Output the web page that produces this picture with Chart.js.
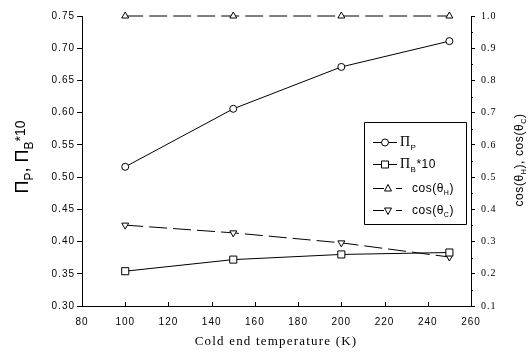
<!DOCTYPE html>
<html>
<head>
<meta charset="utf-8">
<script src="https://cdn.jsdelivr.net/npm/chart.js@4/dist/chart.umd.min.js"></script>
<style>
html,body{margin:0;padding:0;background:#fff;}
canvas{display:block;}
</style>
</head>
<body>
<canvas id="c" width="529" height="353"></canvas>
<script>
// ---- data ----
const temps = [100, 150, 200, 250];
const piP = [0.516, 0.606, 0.671, 0.711];
const piB10 = [0.354, 0.372, 0.380, 0.383];
const cosH = [1.0, 1.0, 1.0, 1.0];
const cosC = [0.351, 0.327, 0.296, 0.252];
const xTicks = [80, 100, 120, 140, 160, 180, 200, 220, 240, 260];
const leftTicks = [0.30, 0.35, 0.40, 0.45, 0.50, 0.55, 0.60, 0.65, 0.70, 0.75];
const rightTicks = [0.1, 0.2, 0.3, 0.4, 0.5, 0.6, 0.7, 0.8, 0.9, 1.0];
const xTitle = 'Cold end temperature (K)';

const pts = (ys) => temps.map((t, i) => ({x: t, y: ys[i]}));

const base = {
  borderColor: '#000', borderWidth: 1, pointBackgroundColor: '#fff',
  pointBorderColor: '#000', pointBorderWidth: 1, tension: 0, fill: false, clip: false
};

function drawMarker(ctx, style, x, y) {
  ctx.save();
  ctx.fillStyle = '#fff'; ctx.strokeStyle = '#000'; ctx.lineWidth = 1; ctx.setLineDash([]);
  ctx.beginPath();
  if (style === 'circle') {
    ctx.arc(x, y, 3.5, 0, Math.PI * 2);
  } else if (style === 'rect') {
    ctx.rect(x - 3.5, y - 3.5, 7, 7);
  } else if (style === 'tri') {
    ctx.moveTo(x, y - 4); ctx.lineTo(x + 3.5, y + 2.5); ctx.lineTo(x - 3.5, y + 2.5); ctx.closePath();
  } else if (style === 'itri') {
    ctx.moveTo(x, y + 4); ctx.lineTo(x + 3.5, y - 2.5); ctx.lineTo(x - 3.5, y - 2.5); ctx.closePath();
  }
  ctx.fill(); ctx.stroke();
  ctx.restore();
}

function drawPieces(ctx, pieces, x, y) {
  let cx = x;
  for (const p of pieces) {
    ctx.font = p[1] + 'px ' + (p[3] || '"Liberation Sans", Arial, sans-serif');
    ctx.fillText(p[0], cx, y + (p[2] || 0));
    cx += ctx.measureText(p[0]).width;
  }
  return cx - x;
}
function measurePieces(ctx, pieces) {
  let w = 0;
  for (const p of pieces) {
    ctx.font = p[1] + 'px ' + (p[3] || '"Liberation Sans", Arial, sans-serif');
    w += ctx.measureText(p[0]).width;
  }
  return w;
}

const spacingPlugin = {
  id: 'spacing',
  beforeDraw(chart) { chart.ctx.letterSpacing = '1px'; }
};

const extras = {
  id: 'extras',
  afterDraw(chart) {
    const ctx = chart.ctx;
    const a = chart.chartArea;
    const xs = chart.scales.x, yr = chart.scales.yR;
    ctx.save();
    ctx.strokeStyle = '#000'; ctx.lineWidth = 1; ctx.fillStyle = '#000';
    ctx.beginPath();
    xTicks.forEach(v => {
      const px = Math.round(xs.getPixelForValue(v)) + 0.5;
      ctx.moveTo(px, a.bottom); ctx.lineTo(px, a.bottom - 4);
    });
    for (let i = 0; i < rightTicks.length - 1; i++) {
      const v = (rightTicks[i] + rightTicks[i + 1]) / 2;
      const py = Math.round(yr.getPixelForValue(v)) + 0.5;
      ctx.moveTo(a.right, py); ctx.lineTo(a.right + 2, py);
    }
    ctx.stroke();

    // legend
    const bx = 364.5, by = 122.5, bw = 102, bh = 102;
    ctx.beginPath(); ctx.rect(bx, by, bw, bh); ctx.stroke();
    ctx.textBaseline = 'alphabetic'; ctx.textAlign = 'left';
    ctx.letterSpacing = '0.5px';
    const rows = [
      {y: 142, marker: 'circle', dashed: false, text: [['Π', 14, 0, '"Liberation Serif", serif'], ['P', 8, 4]]},
      {y: 164, marker: 'rect', dashed: false, text: [['Π', 14, 0, '"Liberation Serif", serif'], ['B', 8, 4], ['*10', 12, 0]]},
      {y: 188, marker: 'tri', dashed: true, text: [['cos(θ', 12, 0], ['H', 7, 3], [')', 12, 0]]},
      {y: 210, marker: 'itri', dashed: true, text: [['cos(θ', 12, 0], ['C', 7, 3], [')', 12, 0]]}
    ];
    rows.forEach(r => {
      const ly = r.y + 0.5;
      ctx.beginPath();
      if (!r.dashed) {
        ctx.moveTo(373, ly); ctx.lineTo(397, ly);
      } else {
        ctx.moveTo(373, ly); ctx.lineTo(384, ly);
        ctx.moveTo(396, ly); ctx.lineTo(402, ly);
      }
      ctx.stroke();
      const mx = r.dashed ? 388 : 385;
      drawMarker(ctx, r.marker, mx, ly);
      const tx = r.dashed ? 412 : 400;
      drawPieces(ctx, r.text, tx, r.y + 4);
    });

    // x title
    ctx.letterSpacing = '1.2px';
    ctx.font = '13px "Liberation Serif", "Times New Roman", serif';
    ctx.textAlign = 'center'; ctx.textBaseline = 'middle';
    ctx.fillText(xTitle, 276, 342);
    ctx.textAlign = 'left'; ctx.textBaseline = 'alphabetic';

    // left title (rotated)
    ctx.letterSpacing = '0px';
    const lp = [['Π', 18], ['P', 12, 5], [', ', 18], ['Π', 18], ['B', 12, 5], ['*10', 14, -3]];
    const lw = measurePieces(ctx, lp);
    ctx.save();
    ctx.translate(28, 157);
    ctx.rotate(-Math.PI / 2);
    drawPieces(ctx, lp, -lw / 2, 0);
    ctx.restore();

    // right title (rotated)
    ctx.letterSpacing = '0.6px';
    const rp = [['cos(θ', 12], ['H', 7, 3], ['), cos(θ', 12], ['C', 7, 3], [')', 12]];
    const rw = measurePieces(ctx, rp);
    ctx.save();
    ctx.translate(523, 160);
    ctx.rotate(-Math.PI / 2);
    drawPieces(ctx, rp, -rw / 2, 0);
    ctx.restore();

    ctx.restore();
  }
};

new Chart(document.getElementById('c'), {
  type: 'line',
  data: {
    datasets: [
      Object.assign({}, base, {label: 'ΠP', data: pts(piP), yAxisID: 'yL', pointStyle: 'circle', pointRadius: 3.5}),
      Object.assign({}, base, {label: 'ΠB*10', data: pts(piB10), yAxisID: 'yL', pointStyle: 'rect', pointRadius: 5}),
      Object.assign({}, base, {label: 'cos(θH)', data: pts(cosH), yAxisID: 'yR', pointStyle: 'triangle', pointRadius: 4, borderDash: [18, 6]}),
      Object.assign({}, base, {label: 'cos(θC)', data: pts(cosC), yAxisID: 'yR', pointStyle: 'triangle', pointRotation: 180, pointRadius: 4, borderDash: [18, 6]})
    ]
  },
  options: {
    responsive: false,
    animation: false,
    devicePixelRatio: 1,
    layout: {padding: {top: 16, left: 0, right: 0, bottom: 0}},
    plugins: {legend: {display: false}, tooltip: {enabled: false}, title: {display: false}},
    scales: {
      x: {
        type: 'linear', min: 80, max: 260,
        afterBuildTicks: s => { s.ticks = xTicks.map(v => ({value: v})); },
        afterFit: s => { s.height = 47; },
        grid: {display: true, drawOnChartArea: false, drawTicks: false, color: '#000'},
        border: {display: true, color: '#000', width: 1},
        ticks: {color: '#000', padding: 10, maxRotation: 0, autoSkip: false,
          font: {family: '"Liberation Sans", Arial, sans-serif', size: 10},
          callback: v => String(v)}
      },
      yL: {
        type: 'linear', position: 'left', min: 0.30, max: 0.75,
        afterBuildTicks: s => { s.ticks = leftTicks.map(v => ({value: v})); },
        afterFit: s => { s.width = 82; },
        grid: {display: true, drawOnChartArea: false, drawTicks: true, tickLength: 5, color: '#000'},
        border: {display: true, color: '#000', width: 1},
        ticks: {color: '#000', padding: 2, autoSkip: false,
          font: {family: '"Liberation Sans", Arial, sans-serif', size: 10},
          callback: v => Number(v).toFixed(2)}
      },
      yR: {
        type: 'linear', position: 'right', min: 0.1, max: 1.0,
        afterBuildTicks: s => { s.ticks = rightTicks.map(v => ({value: v})); },
        afterFit: s => { s.width = 58; },
        grid: {display: true, drawOnChartArea: false, drawTicks: true, tickLength: 4, color: '#000'},
        border: {display: true, color: '#000', width: 1},
        ticks: {color: '#000', padding: 6, autoSkip: false,
          font: {family: '"Liberation Serif", "Times New Roman", serif', size: 10},
          callback: v => Number(v).toFixed(1)}
      }
    }
  },
  plugins: [spacingPlugin, extras]
});
</script>
</body>
</html>
